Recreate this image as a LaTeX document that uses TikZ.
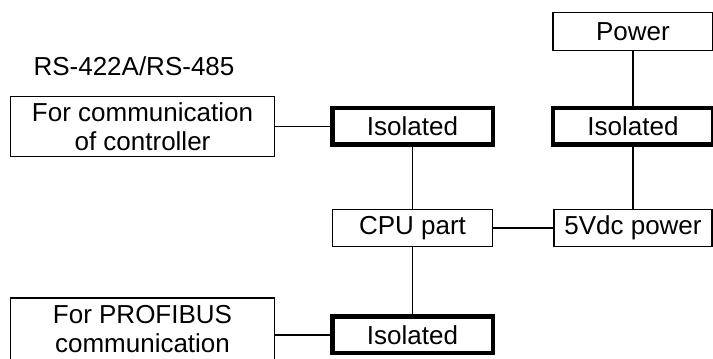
\documentclass[tikz,border=0pt]{standalone}
\usepackage{fontspec}
\setmainfont{Liberation Sans}
\usepackage{tikz}
\usetikzlibrary{positioning, calc}

\begin{document}
\begin{tikzpicture}[
  x=1pt, y=1pt,
  block/.style={
    rectangle,
    draw,
    line width=1.3pt,
    inner sep=0pt,
    align=center,
    font=\fontsize{26}{29}\selectfont,
    minimum width=160pt,
    minimum height=37pt,
  },
  wideblock/.style={
    block,
    minimum width=264pt,
  },
  isoblock/.style={
    block,
    line width=4.5pt,
    minimum width=160.5pt,
    minimum height=36.5pt,
  },
  link/.style={line width=1.3pt}
]
\useasboundingbox (0,0) rectangle (713,359);
\clip (0,0) rectangle (713,359);

% ===== LEFT COLUMN: INTERFACES =====
\node[anchor=base west, font=\fontsize{26}{29}\selectfont] (rslbl) at (30,283) {RS-422A/RS-485};

\node[wideblock, minimum height=60pt] (ctrl) at (142.5,232.5) {For communication\\of controller};

\node[wideblock, minimum height=62pt] (pfb) at (142.5,30) {For PROFIBUS\\communication};

% ===== MIDDLE COLUMN =====
\node[isoblock] (iso1) at (412.5,232.5) {Isolated};
\node[block] (cpu) at (412.5,131) {CPU part};
\node[isoblock] (iso3) at (412.5,24) {Isolated};

% ===== RIGHT COLUMN: SUPPLY =====
\node[block, minimum height=38pt] (pwr) at (633,327.5) {Power};
\node[isoblock] (iso2) at (633,232.5) {Isolated};
\node[block, minimum width=158pt] (vdc) at (633,131) {5Vdc power};

% ===== CONNECTIONS =====
\draw[link] (ctrl) -- (iso1);
\draw[link] (iso1) -- (cpu);
\draw[link] (cpu) -- (iso3);
\draw[link] (pfb.east |- iso3.west) -- (iso3.west);
\draw[link] (pwr) -- (iso2);
\draw[link] (iso2) -- (vdc);
\draw[link] (cpu) -- (vdc);

\end{tikzpicture}
\end{document}
